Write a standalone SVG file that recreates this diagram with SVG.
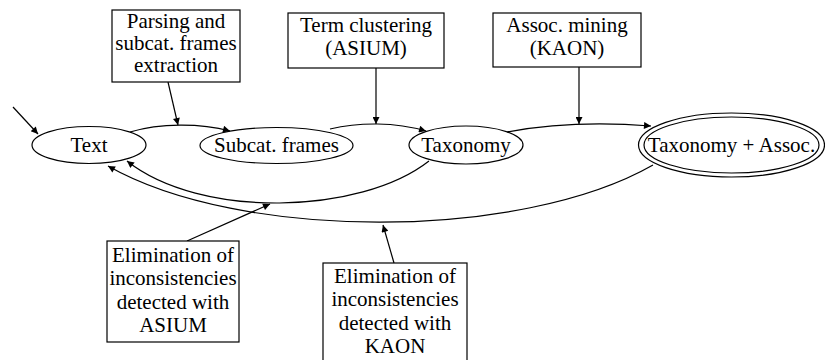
<svg xmlns="http://www.w3.org/2000/svg" width="825" height="360" viewBox="0 0 825 360">
<defs>
<marker id="ah" viewBox="0 0 10 10" refX="10" refY="5" markerWidth="10" markerHeight="7" markerUnits="userSpaceOnUse" orient="auto">
<path d="M0,0 L10,5 L0,10 z" fill="#000"/>
</marker>
<style>
.n{fill:none;stroke:#000;stroke-width:1.2}
.b{fill:#fff;stroke:#000;stroke-width:1.2}
.e{fill:none;stroke:#000;stroke-width:1.2;marker-end:url(#ah)}
text{font-family:"Liberation Serif","Times New Roman",serif;font-size:21px;fill:#000;text-anchor:middle}
</style>
</defs>
<rect width="825" height="360" fill="#fff"/>
<g id="connectors">
<path class="e" d="M13,107 L38,134"/>
<path class="e" d="M130,132 C160,123 200,123 230,131"/>
<path class="e" d="M168,82 L178,125"/>
<path class="e" d="M330,129 C360,122 395,122 426,131"/>
<path class="e" d="M376,68 L376,124"/>
<path class="e" d="M507,132 C550,124 600,122 651,126"/>
<path class="e" d="M579,67 L579,124"/>
<path class="e" d="M429,161 C360,215 200,219 127,161"/>
<path class="e" d="M653,165 C520,241 240,241 108,166"/>
<path class="e" d="M187,241 L270,204"/>
<path class="e" d="M394,263 L383,225"/>
</g>
<g id="node-text">
<ellipse class="n" cx="89" cy="145" rx="57" ry="18.5"/>
<text x="89" y="152">Text</text>
</g>
<g id="node-subcat">
<ellipse class="n" cx="276.5" cy="145.5" rx="76.5" ry="18"/>
<text x="276.5" y="152">Subcat. frames</text>
</g>
<g id="node-taxonomy">
<ellipse class="n" cx="466" cy="145" rx="57" ry="19"/>
<text x="466" y="152">Taxonomy</text>
</g>
<g id="node-taxassoc">
<ellipse class="n" cx="731.5" cy="145" rx="93" ry="32"/>
<ellipse class="n" cx="731.5" cy="145" rx="87.5" ry="28"/>
<text x="731.5" y="152">Taxonomy + Assoc.</text>
</g>
<g id="box-parsing">
<rect class="b" x="112" y="10" width="128" height="72"/>
<text x="176" y="28">Parsing and</text>
<text x="176" y="50">subcat. frames</text>
<text x="176" y="72">extraction</text>
</g>
<g id="box-term">
<rect class="b" x="288" y="13" width="156" height="55"/>
<text x="366" y="32">Term clustering</text>
<text x="366" y="55">(ASIUM)</text>
</g>
<g id="box-assoc">
<rect class="b" x="493" y="13" width="148" height="54"/>
<text x="567" y="32">Assoc. mining</text>
<text x="567" y="55">(KAON)</text>
</g>
<g id="box-asium">
<rect class="b" x="107" y="241" width="132" height="101"/>
<text x="173" y="262">Elimination of</text>
<text x="173" y="285">inconsistencies</text>
<text x="173" y="308.5">detected with</text>
<text x="173" y="332">ASIUM</text>
</g>
<g id="box-kaon">
<rect class="b" x="323" y="263" width="144" height="110"/>
<text x="395" y="283">Elimination of</text>
<text x="395" y="306">inconsistencies</text>
<text x="395" y="329.5">detected with</text>
<text x="395" y="353">KAON</text>
</g>
</svg>
